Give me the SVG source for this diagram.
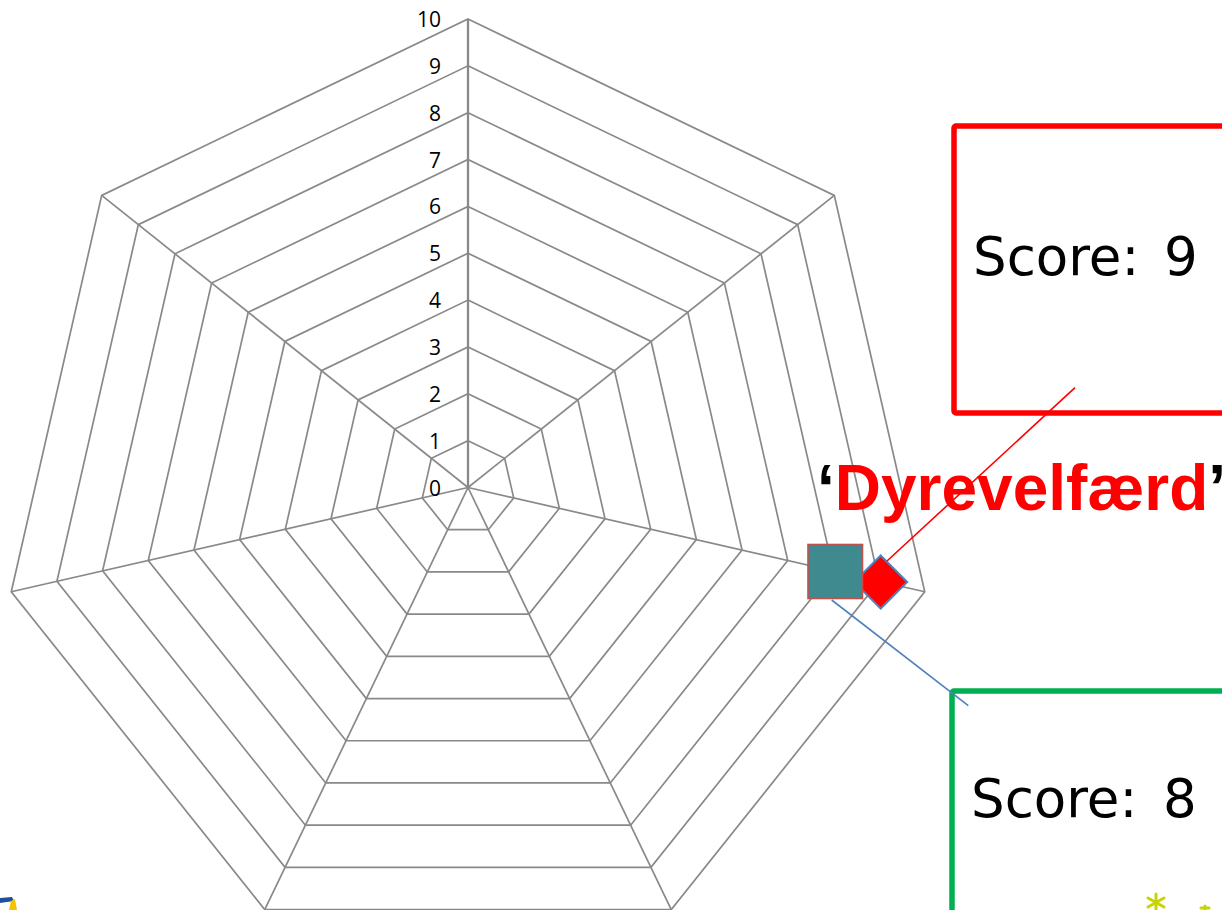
<svg xmlns="http://www.w3.org/2000/svg" width="1222" height="910" viewBox="0 0 1222 910">
<style>
.grid{fill:none;stroke:#898989;stroke-width:1.7;stroke-linejoin:miter}
.spoke{stroke:#898989;stroke-width:1.7}
.axis{stroke:#898989;stroke-width:2.3}
.lbl{font-family:"Open Sans","Liberation Sans",sans-serif;font-size:21px;fill:#000;text-anchor:end}
.score{font-family:"DejaVu Sans","Liberation Sans",sans-serif;font-size:53px;fill:#000}
.title{font-family:"Liberation Sans",Arial,sans-serif;font-size:64px;font-weight:bold}
</style>
<rect width="1222" height="910" fill="#fff"/>
<g id="grid">
<polygon class="grid" points="468,440.65 504.63,458.29 513.68,497.93 488.33,529.71 447.67,529.71 422.32,497.93 431.37,458.29"/>
<polygon class="grid" points="468,393.8 541.26,429.08 559.35,508.35 508.65,571.92 427.35,571.92 376.65,508.35 394.74,429.08"/>
<polygon class="grid" points="468,346.95 577.89,399.87 605.03,518.78 528.98,614.13 407.02,614.13 330.97,518.78 358.11,399.87"/>
<polygon class="grid" points="468,300.1 614.51,370.66 650.7,529.2 549.31,656.34 386.69,656.34 285.3,529.2 321.49,370.66"/>
<polygon class="grid" points="468,253.25 651.14,341.45 696.38,539.63 569.64,698.55 366.36,698.55 239.62,539.63 284.86,341.45"/>
<polygon class="grid" points="468,206.4 687.77,312.24 742.05,550.05 589.96,740.76 346.04,740.76 193.95,550.05 248.23,312.24"/>
<polygon class="grid" points="468,159.55 724.4,283.03 787.73,560.48 610.29,782.97 325.71,782.97 148.27,560.48 211.6,283.03"/>
<polygon class="grid" points="468,112.7 761.03,253.82 833.4,570.9 630.62,825.18 305.38,825.18 102.6,570.9 174.97,253.82"/>
<polygon class="grid" points="468,65.85 797.66,224.61 879.08,581.33 650.95,867.39 285.05,867.39 56.92,581.33 138.34,224.61"/>
<polygon class="grid" points="468,19 834.29,195.4 924.75,591.75 671.27,909.6 264.73,909.6 11.25,591.75 101.71,195.4"/>
<line class="spoke" x1="468" y1="487.5" x2="834.29" y2="195.4"/>
<line class="spoke" x1="468" y1="487.5" x2="924.75" y2="591.75"/>
<line class="spoke" x1="468" y1="487.5" x2="671.27" y2="909.6"/>
<line class="spoke" x1="468" y1="487.5" x2="264.73" y2="909.6"/>
<line class="spoke" x1="468" y1="487.5" x2="11.25" y2="591.75"/>
<line class="spoke" x1="468" y1="487.5" x2="101.71" y2="195.4"/>
<line class="axis" x1="468" y1="487.5" x2="468" y2="19"/>
</g>
<g id="axis-labels">
<text class="lbl" x="441" y="27">10</text>
<text class="lbl" x="441" y="73.85">9</text>
<text class="lbl" x="441" y="120.7">8</text>
<text class="lbl" x="441" y="167.55">7</text>
<text class="lbl" x="441" y="214.4">6</text>
<text class="lbl" x="441" y="261.25">5</text>
<text class="lbl" x="441" y="308.1">4</text>
<text class="lbl" x="441" y="354.95">3</text>
<text class="lbl" x="441" y="401.8">2</text>
<text class="lbl" x="441" y="448.65">1</text>
<text class="lbl" x="441" y="495.5">0</text>
</g>
<g id="marker-diamond">
<polygon points="880.7,555.5 907.2,582 880.7,608.5 854.2,582" fill="#FF0000" stroke="#4F81BD" stroke-width="2"/>
</g>
<g id="marker-square">
<rect x="808" y="544.5" width="54.5" height="54" fill="#3F8A8F" stroke="#C0504D" stroke-width="1.6"/>
</g>
<g id="box-score9">
<rect x="954" y="126" width="300" height="287" rx="2" fill="none" stroke="#FF0000" stroke-width="5.5"/>
<text class="score" x="973" y="275">Score:<tspan x="1164">9</tspan></text>
</g>
<g id="box-score8">
<rect x="952" y="691" width="300" height="260" rx="2" fill="none" stroke="#00B050" stroke-width="5.5"/>
<text class="score" x="971" y="817">Score:<tspan x="1163">8</tspan></text>
</g>
<g id="title">
<text class="title" x="817" y="510"><tspan fill="#000">‘</tspan><tspan fill="#FF0000">Dyrevelfærd</tspan><tspan fill="#000">’</tspan></text>
</g>
<g id="connectors">
<line x1="1075" y1="387.7" x2="887" y2="561" stroke="#FF0000" stroke-width="1.6"/>
<line x1="831.7" y1="600" x2="968.3" y2="705.7" stroke="#4F81BD" stroke-width="1.6"/>
</g>
<g id="logo-left">
<path d="M0,898 L12,897 L14,901 L0,903 Z" fill="#1F4E9A"/>
<path d="M11,901 L15,899 L17,910 L9,910 Z" fill="#F2C500"/>
</g>
<g id="logo-right" stroke="#C8D400" stroke-width="3" stroke-linecap="round">
<line x1="1156" y1="894" x2="1156" y2="911"/>
<line x1="1148" y1="898" x2="1164" y2="907"/>
<line x1="1148" y1="907" x2="1164" y2="898"/>
<line x1="1205" y1="906" x2="1205" y2="911"/>
<line x1="1201" y1="908" x2="1209" y2="908"/>
</g>
</svg>
